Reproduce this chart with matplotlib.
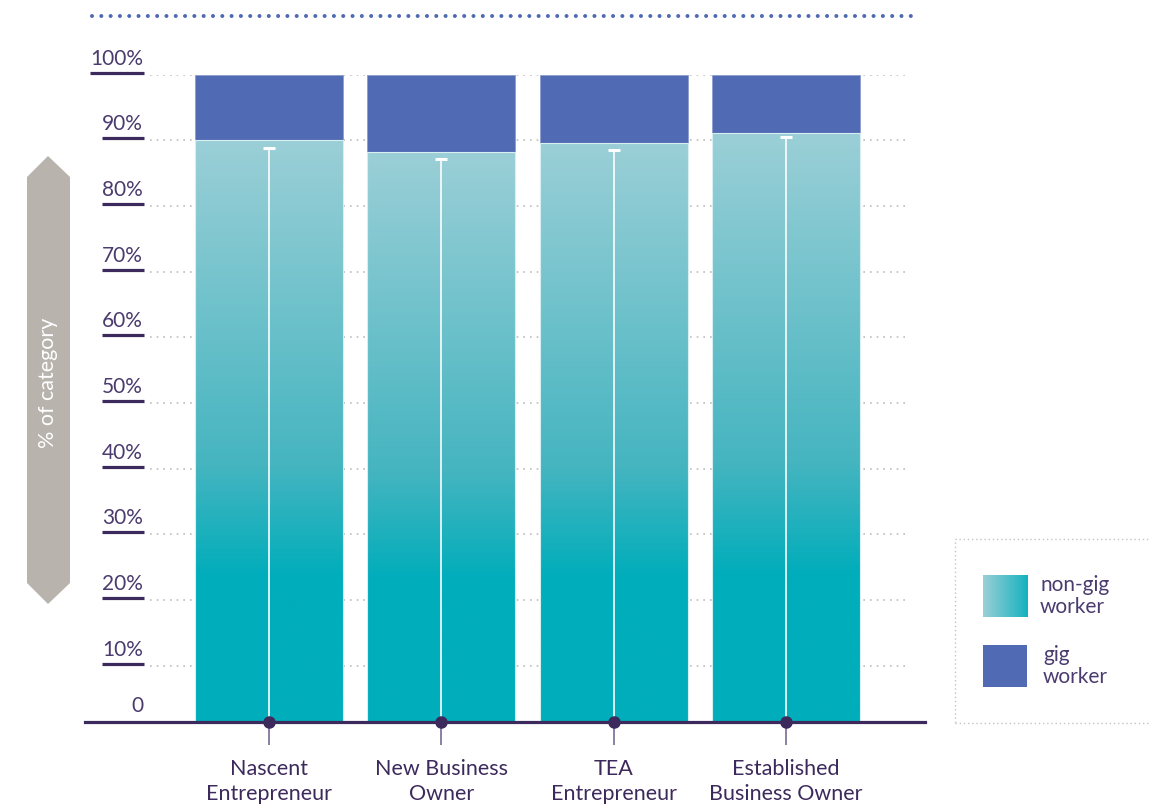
import numpy as np
import matplotlib
matplotlib.use("Agg")
import matplotlib.pyplot as plt
from matplotlib.colors import LinearSegmentedColormap
from matplotlib.patches import Rectangle, Polygon
from matplotlib.lines import Line2D

# ---- data ----
categories = ["Nascent\nEntrepreneur", "New Business\nOwner",
              "TEA\nEntrepreneur", "Established\nBusiness Owner"]
non_gig = [90.0, 88.2, 89.6, 91.1]
gig = [10.0, 11.8, 10.4, 8.9]
ci_upper = [88.9, 87.1, 88.5, 90.5]
yticks = [10, 20, 30, 40, 50, 60, 70, 80, 90, 100]
ytick_labels = ["10%", "20%", "30%", "40%", "50%", "60%", "70%", "80%", "90%", "100%"]
series_labels = ["non-gig\nworker", "gig\nworker"]
axis_title = "% of category"

# ---- style ----
FONT = ["Lato", "DejaVu Sans"]
plt.rcParams["font.family"] = FONT
TEAL = "#00adbb"
TEAL_LIGHT = "#9bcfd7"
GIG = "#506bb3"
PURPLE = "#3d2a5c"
LABEL = "#4b3b6e"
GRID = "#bdbdbd"

W, H = 1151, 806
fig = plt.figure(figsize=(W / 100, H / 100), dpi=100)


def fx(px):
    return px / W


def fy(py):
    return 1 - py / H


# y scale: 100% at 74.7 px, zero at 731.4 px, baseline drawn at 722 px
PX_PER_PCT = (731.4 - 74.7) / 100
ybottom = (731.4 - 722) / PX_PER_PCT
ax = fig.add_axes([fx(85), fy(722), fx(925) - fx(85), fy(74.7) - fy(722)])
xlim = (-1.068, 3.807)
ax.set_xlim(*xlim)
ax.set_ylim(ybottom, 100)

x = np.arange(len(categories))
width = 0.86

# dotted grid
ax.hlines(yticks, -0.69, 3.72, colors=GRID, linestyles=(0, (1, 3)),
          lw=1.2, zorder=0)

cmap = LinearSegmentedColormap.from_list(
    "teal_grad", [(0, TEAL), (0.26, TEAL), (0.45, "#45b5c0"), (1, TEAL_LIGHT)])
grad = np.linspace(0, 1, 256).reshape(-1, 1)

for xi, ng, g in zip(x, non_gig, gig):
    x0, x1 = xi - width / 2, xi + width / 2
    outline = Polygon([(x0, 0), (x1, 0), (x1, ng), (x0, ng)], closed=True,
                      facecolor="none", edgecolor="#d8eff2", lw=0.8, zorder=3)
    ax.add_patch(outline)
    im = ax.imshow(grad, extent=[x0, x1, 0, ng], cmap=cmap, origin="lower",
                   aspect="auto", zorder=2, interpolation="bilinear")
    im.set_clip_path(outline)
    im.set_clip_box(ax.bbox)
    ax.bar(xi, g, width=width, bottom=ng, color=GIG, edgecolor="#8d9dd0",
           lw=0.6, zorder=2)

# white interval lines with caps
ax.vlines(x, 0, ci_upper, colors="white", lw=1.3, alpha=0.9, zorder=4)
ax.plot(x, ci_upper, linestyle="none", marker="_", ms=8, mew=2.2,
        color="white", zorder=4)

ax.set_xlim(*xlim)
ax.set_ylim(ybottom, 100)

# axes styling
for s in ["top", "right", "left"]:
    ax.spines[s].set_visible(False)
ax.spines["bottom"].set_color(PURPLE)
ax.spines["bottom"].set_linewidth(2.3)
ax.spines["bottom"].set_zorder(5)
ax.set_yticks([])
ax.set_xticks(x)
ax.set_xticklabels(categories, fontsize=15.5, color=PURPLE, linespacing=1.3,
                   family=FONT)
ax.tick_params(axis="x", length=16.5, width=1.4, color="#8a80a3", pad=10)
ax.plot(x, [ybottom] * len(x), "o", ms=8, color=PURPLE, clip_on=False,
        zorder=6)

# y labels with underlines
texts = []
for v, lab in zip(yticks, ytick_labels):
    py = 731.4 - PX_PER_PCT * v
    t = fig.text(fx(143), fy(py - 10), lab, ha="right", va="baseline",
                 fontsize=15, color=LABEL)
    texts.append((t, py))
fig.text(fx(143), fy(712), "0", ha="right", va="baseline", fontsize=15,
         color=LABEL)

fig.canvas.draw()
renderer = fig.canvas.get_renderer()
for t, py in texts:
    bb = t.get_window_extent(renderer)
    fig.add_artist(Line2D([bb.x0 / W, fx(144)], [fy(py - 2)] * 2,
                          color=PURPLE, lw=2.3, solid_capstyle="butt"))

# top dotted rule
fig.add_artist(Line2D([fx(92), fx(912)], [fy(16)] * 2, color="#4f6ab3",
                      lw=2.9, linestyle=(0, (0.01, 2.3)),
                      dash_capstyle="round"))

# y-axis title badge
badge = [(27, 177), (48, 156), (70, 177), (70, 583), (48, 604), (27, 583)]
fig.add_artist(Polygon([(fx(a), fy(b)) for a, b in badge], closed=True,
                       facecolor="#b8b3ad", edgecolor="none",
                       transform=fig.transFigure))
fig.text(fx(48.5), fy(383), axis_title, rotation=90, ha="center",
         va="center", fontsize=15.5, color="white")

# legend
fig.add_artist(Rectangle((fx(955), fy(723)), fx(1200) - fx(955),
                         fy(539) - fy(723), facecolor="none",
                         edgecolor="#c4c4c4", lw=1.0,
                         linestyle=(0, (1, 2)), transform=fig.transFigure))
lax = fig.add_axes([fx(983), fy(617), fx(1027) - fx(983), fy(575) - fy(617)])
lax.imshow(np.linspace(0, 1, 128).reshape(1, -1), aspect="auto",
           interpolation="bilinear",
           cmap=LinearSegmentedColormap.from_list("leg", [TEAL_LIGHT, "#14b2be"]))
lax.axis("off")
fig.add_artist(Rectangle((fx(983), fy(687)), fx(1027) - fx(983),
                         fy(645) - fy(687), facecolor=GIG, edgecolor="none",
                         transform=fig.transFigure))
fig.text(fx(1040), fy(596), series_labels[0], ha="left", va="center",
         fontsize=15, color=LABEL, linespacing=1.15)
fig.text(fx(1043), fy(666), series_labels[1], ha="left", va="center",
         fontsize=15, color=LABEL, linespacing=1.15)

fig.savefig("out.png", dpi=100)
